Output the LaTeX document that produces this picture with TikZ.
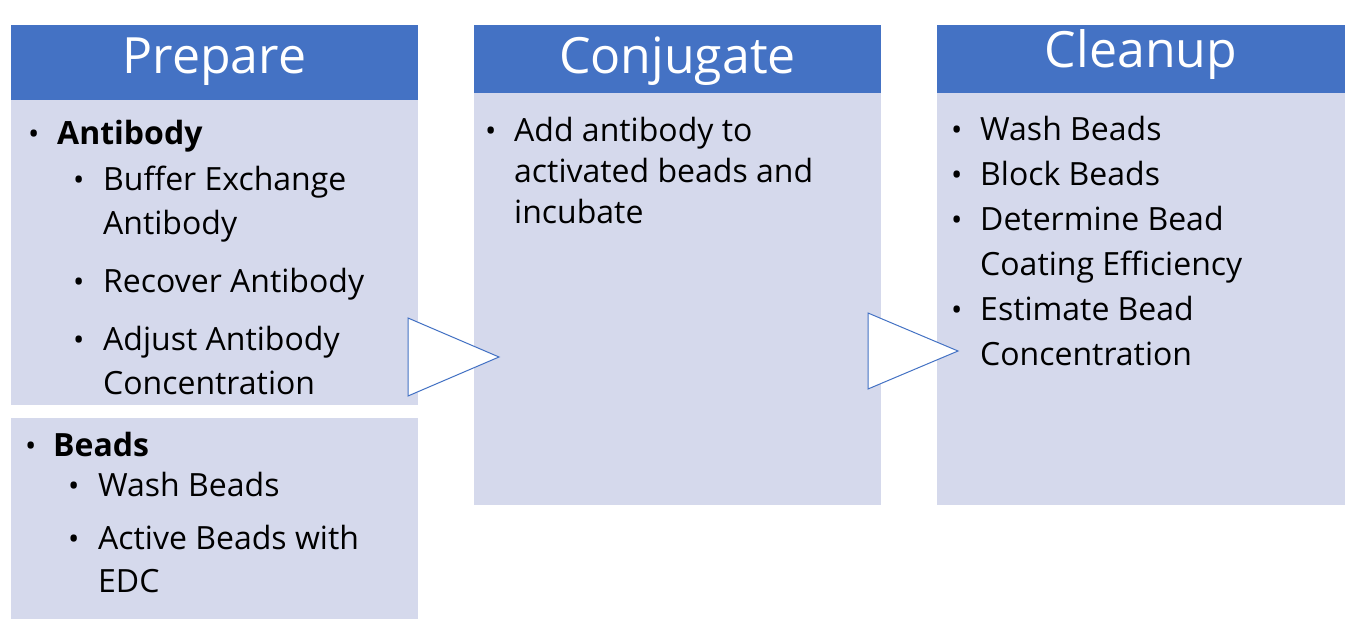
\documentclass[tikz,border=0pt]{standalone}
\usepackage{fontspec}
\setmainfont{Open Sans}
\definecolor{hdr}{HTML}{4472C4}
\definecolor{bodyc}{HTML}{D5D9EC}
\begin{document}
\begin{tikzpicture}[x=1pt,y=-1pt,
  hdrbox/.style={fill=hdr,draw=none},
  bodybox/.style={fill=bodyc,draw=none},
  htxt/.style={text=white,font=\fontsize{50}{54}\selectfont},
  t/.style={anchor=base west,inner sep=0,font=\fontsize{32}{36}\selectfont},
  bl/.style={anchor=base west,inner sep=0,font=\fontsize{30}{36}\selectfont},
  arr/.style={draw=hdr,fill=white,line width=1pt}]
\useasboundingbox (0,0) rectangle (1345,624);
% Prepare
\fill[bodybox] (11,100) rectangle (418,405);
\fill[hdrbox] (11,25) rectangle (418,100);
\node[htxt] (h1) at (214.5,62) {Prepare};
\fill[bodybox] (11,418) rectangle (418,619);
% Conjugate
\fill[bodybox] (474,93) rectangle (881,505);
\fill[hdrbox] (474,25) rectangle (881,93);
\node[htxt] (h2) at (677.5,61) {Conjugate};
% Cleanup
\fill[bodybox] (937,93) rectangle (1345,505);
\fill[hdrbox] (937,25) rectangle (1345,93);
\node[htxt] (h3) at (1141,55) {Cleanup};
% arrows
\draw[arr] (408,318) -- (499,357) -- (408,396) -- cycle;
\draw[arr] (868,313) -- (958,351) -- (868,389) -- cycle;
% Prepare text
\node[bl] at (28,144) {•}; \node[t] at (57,144) {\textbf{Antibody}};
\node[bl] at (73,190) {•}; \node[t] at (103,190) {Buffer Exchange};
\node[t] at (103,234) {Antibody};
\node[bl] at (73,292) {•}; \node[t] at (103,292) {Recover Antibody};
\node[bl] at (73,350) {•}; \node[t] at (103,350) {Adjust Antibody};
\node[t] at (103,394) {Concentration};
% Beads
\node[bl] at (25,456) {•}; \node[t] at (53,456) {\textbf{Beads}};
\node[bl] at (68,496) {•}; \node[t] at (98,496) {Wash Beads};
\node[bl] at (68,549) {•}; \node[t] at (98,549) {Active Beads with};
\node[t] at (98,592) {EDC};
% Conjugate text
\node[bl] at (485,141) {•}; \node[t] at (514,141) {Add antibody to};
\node[t] at (514,182) {activated beads and};
\node[t] at (514,223) {incubate};
% Cleanup text
\node[bl] at (951,140) {•}; \node[t] at (980,140) {Wash Beads};
\node[bl] at (951,185) {•}; \node[t] at (980,185) {Block Beads};
\node[bl] at (951,230) {•}; \node[t] at (980,230) {Determine Bead};
\node[t] at (980,275) {Coating Efficiency};
\node[bl] at (951,320) {•}; \node[t] at (980,320) {Estimate Bead};
\node[t] at (980,365) {Concentration};
\end{tikzpicture}
\end{document}
